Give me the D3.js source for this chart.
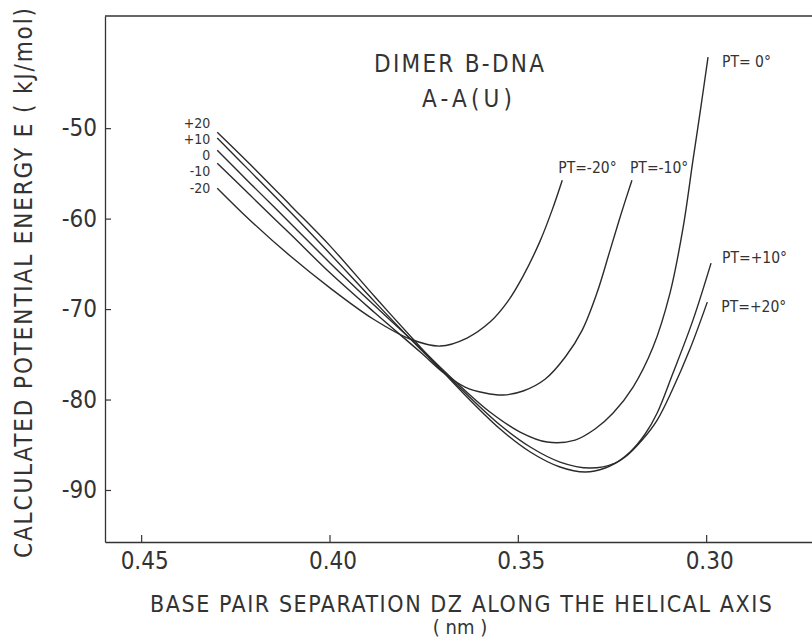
<!DOCTYPE html>
<html>
<head>
<meta charset="utf-8">
<script src="https://cdn.jsdelivr.net/npm/d3@7/dist/d3.min.js"></script>
<style>
  html, body { margin: 0; padding: 0; background: #fff; }
  svg { display: block; }
  text { fill: #333; font-family: "Liberation Sans Narrow", "DejaVu Sans Condensed", "Liberation Sans", sans-serif; }
</style>
</head>
<body>
<svg id="chart" width="812" height="641"></svg>
<script>
// ---- data ----
const xTicks = [0.45, 0.40, 0.35, 0.30];
const xTickLabels = ["0.45", "0.40", "0.35", "0.30"];
const yTicks = [-50, -60, -70, -80, -90];

// PT = -20°
const dzM20 = [0.4298, 0.4211, 0.4104, 0.3998, 0.3884, 0.3786, 0.3706, 0.3635, 0.3574, 0.3528, 0.3486, 0.3441, 0.3409, 0.3382];
const eM20  = [-56.63, -60.17, -64.14, -67.68, -71.10, -73.31, -74.09, -73.20, -71.44, -69.23, -66.35, -62.49, -59.06, -55.75];
// PT = -10°
const dzM10 = [0.4298, 0.4211, 0.4104, 0.3998, 0.3879, 0.3759, 0.3693, 0.3640, 0.3587, 0.3539, 0.3486, 0.3427, 0.3374, 0.3329, 0.3290, 0.3255, 0.3226, 0.3197];
const eM10  = [-53.87, -57.40, -61.71, -66.02, -70.44, -74.75, -77.18, -78.62, -79.28, -79.50, -79.06, -77.73, -75.30, -72.32, -68.23, -63.48, -59.50, -55.75];
// PT = 0°
const dz0 = [0.4298, 0.4211, 0.4104, 0.3998, 0.3879, 0.3759, 0.3653, 0.3574, 0.3494, 0.3422, 0.3348, 0.3295, 0.3247, 0.3194, 0.3141, 0.3096, 0.3061, 0.3035, 0.3016, 0.2995];
const e0  = [-52.43, -56.08, -60.50, -64.92, -69.67, -74.31, -78.51, -81.38, -83.59, -84.70, -84.48, -83.26, -81.49, -78.62, -74.20, -68.23, -60.94, -53.54, -48.23, -42.15];
// PT = +10°
const dzP10 = [0.4298, 0.4211, 0.4104, 0.3998, 0.3879, 0.3759, 0.3653, 0.3547, 0.3467, 0.3388, 0.3308, 0.3242, 0.3202, 0.3162, 0.3130, 0.3088, 0.3035, 0.2987];
const eP10  = [-51.10, -54.75, -59.28, -63.92, -69.23, -74.42, -78.73, -82.82, -85.25, -86.91, -87.57, -87.02, -85.80, -83.81, -81.49, -77.07, -71.22, -64.92];
// PT = +20°
const dzP20 = [0.4298, 0.4211, 0.4104, 0.3998, 0.3879, 0.3759, 0.3653, 0.3547, 0.3467, 0.3388, 0.3321, 0.3268, 0.3215, 0.3170, 0.3130, 0.3090, 0.3043, 0.2997];
const eP20  = [-50.44, -53.98, -58.51, -63.04, -68.67, -74.20, -78.95, -83.26, -85.80, -87.46, -88.01, -87.57, -86.35, -84.48, -82.27, -78.95, -74.42, -69.23];

const startLabels = ["+20", "+10", "0", "-10", "-20"];
const endLabels = ["PT=-20°", "PT=-10°", "PT= 0°", "PT=+10°", "PT=+20°"];
const titleLines = ["DIMER  B-DNA", "A-A(U)"];
const xTitle = "BASE PAIR SEPARATION DZ ALONG THE HELICAL AXIS";
const xUnit = "( nm )";
const yTitle = "CALCULATED POTENTIAL ENERGY E ( kJ/mol)";

// ---- build ----
const series = [
  { dz: dzM20, e: eM20, end: endLabels[0] },
  { dz: dzM10, e: eM10, end: endLabels[1] },
  { dz: dz0,   e: e0,   end: endLabels[2] },
  { dz: dzP10, e: eP10, end: endLabels[3] },
  { dz: dzP20, e: eP20, end: endLabels[4] }
].map(s => ({ end: s.end, pts: s.dz.map((d, i) => [d, s.e[i]]) }));

const svg = d3.select("#chart");
const L = 105, R = 812, T = 16, B = 542;
const FONT = '"Liberation Sans Narrow", "DejaVu Sans Condensed", sans-serif';

const x = d3.scaleLinear().domain([0.4596, 0.2719]).range([L, R]);
const y = d3.scaleLinear().domain([-95.75, -37.6]).range([B, T]);

const ink = "#333";

// top frame line
svg.append("line").attr("x1", L).attr("x2", R).attr("y1", T).attr("y2", T)
  .attr("stroke", ink).attr("stroke-width", 1.3);

const xAxis = d3.axisBottom(x).tickValues(xTicks)
  .tickFormat((d, i) => xTickLabels[i]).tickSizeInner(-7).tickSizeOuter(0).tickPadding(10);
const gx = svg.append("g").attr("transform", `translate(0,${B})`).call(xAxis);
gx.selectAll("text").attr("font-size", 24).attr("dx", 3)
  .style("font-family", FONT).attr("fill", ink);

const yAxis = d3.axisLeft(y).tickValues(yTicks)
  .tickFormat(d3.format("d")).tickSizeInner(-6).tickSizeOuter(0).tickPadding(8);
const gy = svg.append("g").attr("transform", `translate(${L},0)`).call(yAxis);
gy.selectAll("text").attr("font-size", 24)
  .style("font-family", FONT).attr("fill", ink)
  .text(d => String(d));

[gx, gy].forEach(g => {
  g.select(".domain").attr("stroke", ink).attr("stroke-width", 1.3);
  g.selectAll(".tick line").attr("stroke", ink).attr("stroke-width", 1.2);
});

// curves
const line = d3.line().x(d => x(d[0])).y(d => y(d[1])).curve(d3.curveCatmullRom.alpha(0.5));
svg.append("g").selectAll("path").data(series).join("path")
  .attr("d", d => line(d.pts))
  .attr("fill", "none").attr("stroke", "#2b2b2b").attr("stroke-width", 1.4);

// start labels (left), ordered from top curve to bottom curve
const startOrder = [4, 3, 2, 1, 0];
const startDy = [-4, 6, 10, 13, 5];
svg.append("g").selectAll("text").data(startOrder).join("text")
  .attr("x", i => x(series[i].pts[0][0]) - 7)
  .attr("y", (i, k) => y(series[i].pts[0][1]) + startDy[k])
  .attr("text-anchor", "end").attr("font-size", 14)
  .text((i, k) => startLabels[k]);

// end labels
const endOff = [[-4, -7], [-2, -7], [14, 10], [11, 0], [14, 10]];
svg.append("g").selectAll("text").data(series).join("text")
  .attr("x", (d, i) => x(d.pts[d.pts.length - 1][0]) + endOff[i][0])
  .attr("y", (d, i) => y(d.pts[d.pts.length - 1][1]) + endOff[i][1])
  .attr("text-anchor", "start")
  .attr("font-size", 15.5)
  .text(d => d.end);

// title
svg.append("text").attr("x", 459).attr("y", 72).attr("text-anchor", "middle")
  .attr("font-size", 24).attr("textLength", 170).attr("lengthAdjust", "spacing").text(titleLines[0]);
svg.append("text").attr("x", 467).attr("y", 107).attr("text-anchor", "middle")
  .attr("font-size", 24).attr("textLength", 90).attr("lengthAdjust", "spacing").text(titleLines[1]);

// axis titles
svg.append("text").attr("x", 461).attr("y", 612).attr("text-anchor", "middle")
  .attr("font-size", 23).attr("textLength", 622).attr("lengthAdjust", "spacing").text(xTitle);
svg.append("text").attr("x", 460).attr("y", 634).attr("text-anchor", "middle")
  .attr("font-size", 20).text(xUnit);
svg.append("text").attr("transform", "translate(32,283) rotate(-90)").attr("text-anchor", "middle")
  .attr("font-size", 24).attr("textLength", 550).attr("lengthAdjust", "spacing").text(yTitle);
</script>
</body>
</html>
